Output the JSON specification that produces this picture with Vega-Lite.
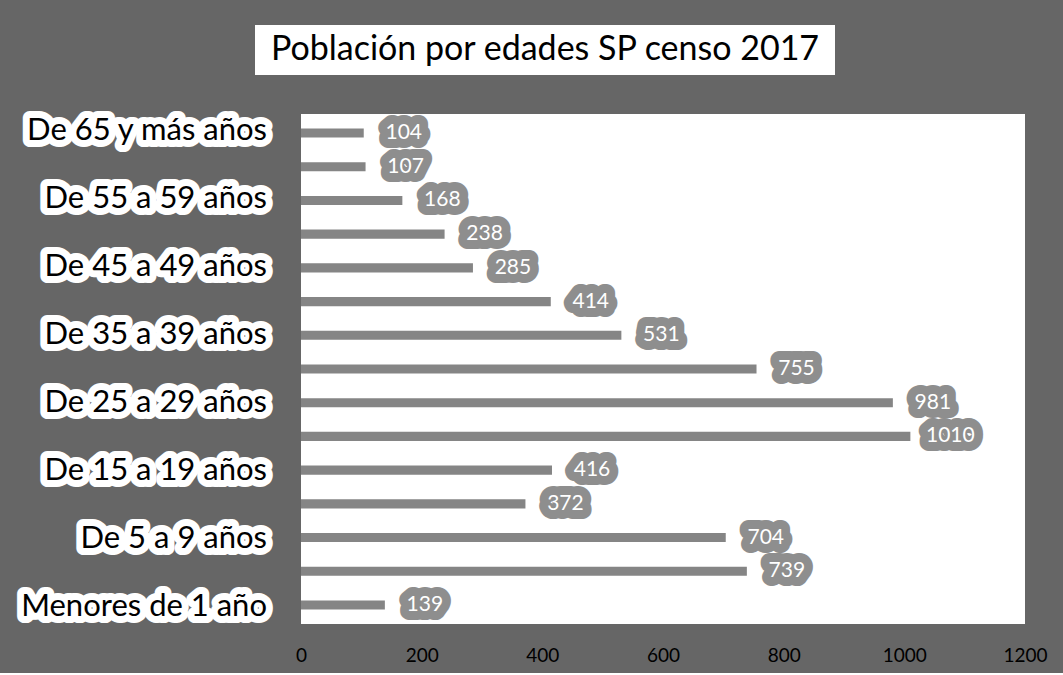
{
  "$schema": "https://vega.github.io/schema/vega-lite/v6.json",
  "background": "#666666",
  "padding": {"left": 0, "top": 25, "right": 22, "bottom": 8},
  "config": {"view": {"stroke": null}, "font": "Lato"},
  "spacing": 39,
  "datasets": {
    "poblacion": [
      {"grupo": "De 65 y más años", "poblacion": 104},
      {"grupo": "De 60 a 64 años", "poblacion": 107},
      {"grupo": "De 55 a 59 años", "poblacion": 168},
      {"grupo": "De 50 a 54 años", "poblacion": 238},
      {"grupo": "De 45 a 49 años", "poblacion": 285},
      {"grupo": "De 40 a 44 años", "poblacion": 414},
      {"grupo": "De 35 a 39 años", "poblacion": 531},
      {"grupo": "De 30 a 34 años", "poblacion": 755},
      {"grupo": "De 25 a 29 años", "poblacion": 981},
      {"grupo": "De 20 a 24 años", "poblacion": 1010},
      {"grupo": "De 15 a 19 años", "poblacion": 416},
      {"grupo": "De 10 a 14 años", "poblacion": 372},
      {"grupo": "De 5 a 9 años", "poblacion": 704},
      {"grupo": "De 1 a 4 años", "poblacion": 739},
      {"grupo": "Menores de 1 año", "poblacion": 139}
    ],
    "titulo": [{"titulo": "Población por edades SP censo 2017"}]
  },
  "vconcat": [
    {
      "spacing": 0,
      "hconcat": [
        {
          "width": 255,
          "height": 50,
          "data": {"values": []},
          "mark": {"type": "text"},
          "encoding": {}
        },
        {
          "width": 580,
          "height": 50,
          "view": {"fill": "white", "stroke": null},
          "data": {"name": "titulo"},
          "mark": {"type": "text", "font": "Lato", "fontSize": 34, "color": "black"},
          "encoding": {"text": {"field": "titulo", "type": "nominal"}}
        }
      ]
    },
    {
      "spacing": 12,
      "hconcat": [
        {
          "width": 283,
          "height": 510,
          "data": {"name": "poblacion"},
          "transform": [{"filter": {"field": "grupo", "oneOf": ["De 65 y más años", "De 55 a 59 años", "De 45 a 49 años", "De 35 a 39 años", "De 25 a 29 años", "De 15 a 19 años", "De 5 a 9 años", "Menores de 1 año"]}}],
          "encoding": {
            "y": {
              "field": "grupo",
              "type": "nominal",
              "sort": null,
              "axis": null,
              "scale": {
                "domain": ["De 65 y más años", "De 60 a 64 años", "De 55 a 59 años", "De 50 a 54 años", "De 45 a 49 años", "De 40 a 44 años", "De 35 a 39 años", "De 30 a 34 años", "De 25 a 29 años", "De 20 a 24 años", "De 15 a 19 años", "De 10 a 14 años", "De 5 a 9 años", "De 1 a 4 años", "Menores de 1 año"],
                "paddingInner": 0.73,
                "paddingOuter": 0.43
              }
            },
            "x": {"datum": 1, "type": "quantitative", "scale": {"domain": [0, 1]}, "axis": null},
            "text": {"field": "grupo", "type": "nominal"}
          },
          "layer": [
            {
              "mark": {"type": "text", "align": "right", "dx": -16, "font": "Lato", "fontSize": 31, "fill": "white", "stroke": "white", "strokeWidth": 14, "strokeJoin": "round"}
            },
            {
              "mark": {"type": "text", "align": "right", "dx": -16, "font": "Lato", "fontSize": 31, "fill": "black"}
            }
          ]
        },
        {
          "width": 724,
          "height": 510,
          "view": {"fill": "white", "stroke": null},
          "data": {"name": "poblacion"},
          "encoding": {
            "y": {
              "field": "grupo",
              "type": "nominal",
              "sort": null,
              "axis": null,
              "scale": {"paddingInner": 0.73, "paddingOuter": 0.43}
            },
            "x": {
              "field": "poblacion",
              "type": "quantitative",
              "scale": {"domain": [0, 1200]},
              "axis": {
                "values": [0, 200, 400, 600, 800, 1000, 1200],
                "format": "d",
                "ticks": false,
                "domain": false,
                "grid": false,
                "title": null,
                "labelFont": "Lato",
                "labelFontSize": 19,
                "labelColor": "black",
                "labelPadding": 22,
                "labelFlush": false,
                "labelOverlap": false
              }
            }
          },
          "layer": [
            {
              "mark": {"type": "bar", "color": "#858585"}
            },
            {
              "mark": {"type": "text", "align": "center", "dx": 40, "font": "Lato", "fontSize": 21, "fill": "#8e8e8e", "stroke": "#8e8e8e", "strokeWidth": 18, "strokeJoin": "round"},
              "encoding": {"text": {"field": "poblacion", "type": "quantitative", "format": "d"}}
            },
            {
              "mark": {"type": "text", "align": "center", "dx": 40, "font": "Lato", "fontSize": 21, "fill": "white"},
              "encoding": {"text": {"field": "poblacion", "type": "quantitative", "format": "d"}}
            }
          ]
        }
      ]
    }
  ]
}
